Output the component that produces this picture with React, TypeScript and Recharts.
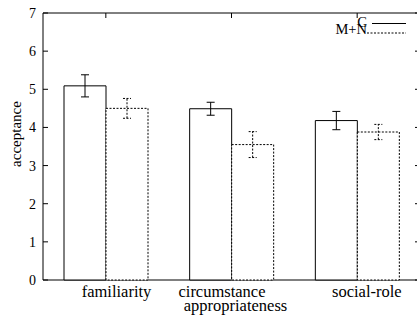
import { BarChart, Bar, XAxis, YAxis, ErrorBar, ReferenceArea } from "recharts";

const categories = ["familiarity", "circumstance appropriateness", "social-role"];
const labelLines = [["familiarity"], ["circumstance", "appropriateness"], ["social-role"]];
const cValues = [5.09, 4.49, 4.18];
const cErrors = [0.29, 0.17, 0.24];
const mnValues = [4.5, 3.55, 3.88];
const mnErrors = [0.26, 0.34, 0.2];
const yTicks = [0, 1, 2, 3, 4, 5, 6, 7];

const data = categories.map((name, i) => ({
  name,
  c: cValues[i],
  cErr: cErrors[i],
  mn: mnValues[i],
  mnErr: mnErrors[i],
}));

const FONT = '"Times New Roman", "Liberation Serif", "DejaVu Serif", serif';
const PLOT_LEFT = 43;
const PLOT_RIGHT = 420;
const PLOT_TOP = 13;
const PLOT_BOTTOM = 280;

// gnuplot-style label nudges (per category, per line)
const LABEL_DX = [[10.7], [-9.5, 4], [9.7]];

function XTick(props: any) {
  const { payload, index } = props;
  const cx = payload.coordinate;
  const lines = labelLines[index] || [payload.value];
  return (
    <g>
      <line x1={cx} y1={PLOT_TOP} x2={cx} y2={PLOT_TOP + 5} stroke="#000" />
      {lines.map((t: string, i: number) => (
        <text
          key={i}
          x={cx + (LABEL_DX[index]?.[i] ?? 0)}
          y={PLOT_BOTTOM + 16.5 + i * 14}
          textAnchor="middle"
          style={{ fontFamily: FONT, fontSize: 16.5 }}
          fill="#000"
        >
          {t}
        </text>
      ))}
    </g>
  );
}

function YTick(props: any) {
  const { payload } = props;
  const y = payload.coordinate;
  return (
    <g>
      <line x1={PLOT_LEFT} y1={y} x2={PLOT_LEFT + 5} y2={y} stroke="#000" />
      <line x1={PLOT_RIGHT - 5} y1={y} x2={PLOT_RIGHT} y2={y} stroke="#000" />
      <text
        x={36}
        y={y}
        dy={5}
        textAnchor="end"
        style={{ fontFamily: FONT, fontSize: 14 }}
        fill="#000"
      >
        {payload.value}
      </text>
    </g>
  );
}

export default function App() {
  return (
    <div
      style={{
        position: "fixed",
        left: 0,
        top: 0,
        width: 417,
        height: 327,
        overflow: "hidden",
        background: "#fff",
        fontFamily: FONT,
      }}
    >
      <BarChart
        width={420}
        height={327}
        data={data}
        margin={{ top: PLOT_TOP, right: 0, bottom: 0, left: 0 }}
        barGap={0}
        barSize={42}
      >
        <XAxis
          dataKey="name"
          height={47}
          tickLine={false}
          axisLine={false}
          tick={<XTick />}
          interval={0}
        />
        <YAxis
          width={43}
          domain={[0, 7]}
          ticks={yTicks}
          tickLine={false}
          axisLine={false}
          tick={<YTick />}
        />
        <Bar dataKey="c" fill="#fff" stroke="#000" strokeWidth={1} isAnimationActive={false}>
          <ErrorBar dataKey="cErr" width={4} stroke="#000" strokeWidth={1} isAnimationActive={false} />
        </Bar>
        <Bar
          dataKey="mn"
          fill="#fff"
          stroke="#000"
          strokeWidth={1}
          strokeDasharray="2 1.5"
          isAnimationActive={false}
        >
          <ErrorBar
            dataKey="mnErr"
            width={4}
            stroke="#000"
            strokeWidth={1}
            strokeDasharray="2 1.5"
            isAnimationActive={false}
          />
        </Bar>
        <ReferenceArea y1={0} y2={7} fill="none" stroke="#000" strokeWidth={1} ifOverflow="visible" />
      </BarChart>
      <svg
        width={417}
        height={327}
        style={{ position: "absolute", left: 0, top: 0, pointerEvents: "none" }}
      >
        <text
          transform="translate(21,134) rotate(-90)"
          textAnchor="middle"
          style={{ fontFamily: FONT, fontSize: 15 }}
          fill="#000"
        >
          acceptance
        </text>
        <text x={367} y={27} textAnchor="end" style={{ fontFamily: FONT, fontSize: 14.5 }} fill="#000">
          C
        </text>
        <line x1={372} y1={23.5} x2={406} y2={23.5} stroke="#000" />
        <text x={367} y={33.5} textAnchor="end" style={{ fontFamily: FONT, fontSize: 14.5 }} fill="#000">
          M+N
        </text>
        <line x1={367} y1={33} x2={406} y2={33} stroke="#000" strokeDasharray="2 1.5" />
      </svg>
    </div>
  );
}
